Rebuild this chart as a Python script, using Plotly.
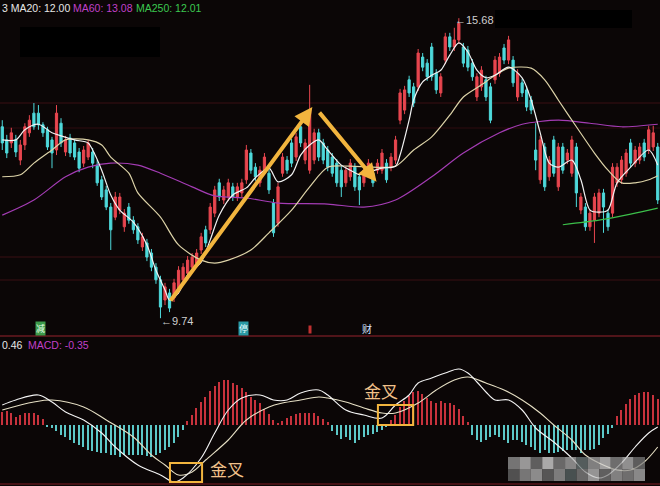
import plotly.graph_objects as go

W, H = 660, 486

# ---------------- price pane data (one candle per trading day) ----------------
opens = [13.53, 13.27, 13.21, 13.27, 12.87, 13.17, 13.41, 13.80, 13.80, 13.57,
         13.47, 13.27, 13.07, 13.60, 13.03, 13.31, 13.21, 13.03, 12.81, 12.93,
         13.03, 12.77, 12.48, 12.28, 11.94, 11.74, 11.88, 11.55, 11.94, 11.68,
         11.55, 11.15, 11.23, 11.03, 10.75, 10.50, 10.10, 10.24, 10.14, 10.30,
         10.50, 10.63, 10.75, 10.83, 11.09, 11.49, 11.49, 11.82, 12.42, 12.08,
         12.14, 12.34, 12.14, 12.22, 12.48, 13.01, 12.73, 12.42, 12.67, 12.61,
         12.02, 11.62, 12.61, 12.87, 13.21, 12.93, 13.53, 12.87, 12.67, 12.87,
         13.41, 13.21, 13.07, 12.93, 12.81, 12.67, 12.42, 12.54, 12.73, 12.54,
         12.42, 12.61, 12.61, 12.67, 12.67, 12.81, 12.73, 12.87, 13.66, 13.86,
         14.46, 14.32, 14.32, 14.91, 14.79, 15.11, 14.59, 14.20, 14.85, 15.31,
         15.11, 15.25, 15.11, 15.05, 14.79, 14.12, 14.32, 14.46, 14.32, 14.46,
         14.59, 15.09, 14.85, 14.85, 14.12, 14.40, 14.26, 14.06, 13.07, 12.48,
         13.13, 12.54, 13.27, 12.34, 13.13, 12.87, 12.61, 13.13, 11.88, 11.94,
         11.55, 11.68, 11.82, 12.22, 11.82, 11.82, 12.42, 12.48, 12.61, 13.21,
         12.81, 12.87, 13.21, 13.07, 13.13, 13.13]
highs = [13.66, 13.37, 13.51, 13.37, 13.27, 13.60, 13.76, 14.00, 13.96, 13.62,
         13.53, 13.33, 13.96, 13.70, 13.35, 13.39, 13.27, 13.11, 13.15, 13.27,
         13.11, 12.87, 12.56, 12.36, 12.02, 12.24, 12.22, 11.90, 12.02, 11.76,
         11.62, 11.43, 11.31, 11.11, 10.83, 10.58, 10.44, 10.32, 10.52, 10.77,
         10.83, 10.97, 11.03, 11.11, 11.43, 11.57, 12.02, 12.36, 12.50, 12.36,
         12.50, 12.42, 12.42, 12.50, 13.17, 13.09, 12.81, 12.75, 13.01, 12.69,
         12.10, 12.42, 13.01, 12.95, 13.29, 13.41, 13.60, 13.29, 14.36, 13.49,
         13.49, 13.29, 13.15, 13.01, 12.89, 12.75, 12.75, 12.89, 12.81, 12.61,
         12.75, 12.89, 12.69, 12.89, 13.09, 12.89, 13.01, 13.35, 14.28, 14.34,
         14.54, 14.40, 15.07, 14.99, 14.87, 15.19, 14.67, 14.59, 15.39, 15.39,
         15.49, 15.68, 15.19, 15.13, 14.87, 14.59, 14.73, 14.54, 14.40, 14.93,
         14.99, 15.17, 15.33, 14.93, 14.67, 14.48, 14.34, 14.14, 13.60, 13.35,
         13.21, 12.95, 13.35, 13.21, 13.21, 13.09, 13.35, 13.21, 12.22, 12.02,
         11.90, 12.22, 12.30, 12.30, 11.90, 12.81, 12.81, 12.95, 13.09, 13.29,
         13.15, 13.21, 13.29, 13.55, 13.55, 13.21]
lows = [13.07, 12.91, 13.11, 12.93, 12.77, 13.07, 13.33, 13.47, 13.47, 13.33,
        13.07, 12.71, 12.97, 13.13, 12.95, 12.93, 12.87, 12.63, 12.73, 12.87,
        12.71, 12.36, 12.08, 11.88, 11.09, 11.68, 11.80, 11.45, 11.61, 11.41,
        11.21, 11.07, 10.87, 10.67, 10.42, 9.74, 10.00, 9.86, 10.06, 10.22,
        10.42, 10.56, 10.67, 10.75, 11.01, 11.15, 11.41, 11.74, 12.06, 12.00,
        12.06, 12.06, 12.06, 12.14, 12.40, 12.60, 12.46, 12.34, 12.60, 12.20,
        11.35, 11.55, 12.54, 12.60, 12.73, 12.85, 13.13, 12.79, 12.60, 12.79,
        12.85, 12.79, 12.65, 12.54, 12.34, 12.14, 12.34, 12.46, 12.26, 11.98,
        12.34, 12.54, 12.34, 12.60, 12.60, 12.42, 12.65, 12.79, 13.58, 13.78,
        14.12, 13.92, 14.24, 14.63, 14.44, 14.44, 14.18, 14.12, 14.77, 15.03,
        15.03, 15.17, 14.71, 14.63, 14.44, 14.04, 14.24, 14.04, 13.60, 14.38,
        14.52, 14.77, 14.77, 14.32, 14.04, 14.12, 13.84, 13.78, 12.67, 12.40,
        12.26, 12.46, 12.54, 12.26, 12.60, 12.79, 12.54, 11.94, 11.80, 11.47,
        11.47, 11.23, 11.74, 11.43, 11.47, 11.74, 12.34, 12.40, 12.54, 12.73,
        12.73, 12.79, 12.85, 12.99, 13.05, 12.00]
closes = [13.21, 13.01, 13.41, 13.03, 13.17, 13.53, 13.66, 13.53, 13.57, 13.41,
          13.13, 13.01, 13.80, 13.21, 13.27, 13.01, 12.93, 12.71, 13.07, 13.21,
          12.81, 12.42, 12.14, 11.94, 11.49, 12.14, 12.14, 11.82, 11.68, 11.49,
          11.29, 11.35, 10.95, 10.75, 10.50, 9.96, 10.36, 9.94, 10.44, 10.69,
          10.75, 10.89, 10.95, 11.03, 11.35, 11.23, 11.94, 12.28, 12.14, 12.28,
          12.42, 12.14, 12.34, 12.42, 13.07, 12.67, 12.54, 12.67, 12.93, 12.28,
          11.43, 12.34, 12.93, 12.67, 12.81, 13.33, 13.21, 13.21, 13.86, 13.41,
          12.93, 12.87, 12.73, 12.61, 12.42, 12.34, 12.67, 12.81, 12.34, 12.28,
          12.67, 12.81, 12.42, 12.81, 13.01, 12.48, 12.93, 13.27, 14.20, 14.26,
          14.20, 14.00, 14.99, 14.71, 14.52, 14.52, 14.26, 14.52, 15.31, 15.11,
          15.25, 15.58, 14.79, 14.71, 14.52, 14.52, 14.65, 14.12, 13.66, 14.85,
          14.91, 14.85, 15.25, 14.40, 14.59, 14.20, 13.92, 13.86, 12.87, 13.27,
          12.34, 12.87, 12.61, 13.13, 12.67, 13.01, 13.27, 12.22, 12.14, 11.55,
          11.82, 12.14, 12.22, 11.94, 11.55, 12.73, 12.73, 12.87, 13.01, 12.81,
          13.07, 13.13, 12.93, 13.47, 13.41, 12.08]
days = list(range(len(opens)))

# moving-average lines, read at sample days
ma5_day = [0, 3, 5, 8, 11, 13, 16, 19, 20, 22, 24, 26, 29, 32, 34, 36, 37, 39, 41, 44,
           46, 48, 51, 54, 56, 59, 61, 64, 66, 68, 70, 72, 75, 77, 79, 81, 84, 87, 88, 90,
           91, 93, 95, 97, 99, 101, 103, 105, 107, 109, 112, 115, 117, 119, 121, 123, 126,
           128, 130, 132, 134, 136, 139, 143, 145]
ma5_val = [13.27, 13.27, 13.47, 13.58, 13.41, 13.35, 13.27, 13.21, 13.07, 12.67, 12.18,
           11.88, 11.64, 11.19, 10.69, 10.30, 10.10, 10.24, 10.60, 10.85, 11.29, 11.78,
           12.18, 12.32, 12.52, 12.71, 12.44, 12.58, 12.97, 13.17, 13.27, 13.07, 12.77,
           12.67, 12.58, 12.63, 12.71, 12.75, 12.97, 13.66, 14.06, 14.42, 14.55, 14.65,
           14.95, 15.19, 15.01, 14.65, 14.50, 14.55, 14.71, 14.50, 14.06, 13.41, 12.81,
           12.73, 12.87, 12.48, 11.88, 11.84, 11.88, 12.42, 12.73, 13.07, 12.77]
ma20_day = [0, 4, 7, 11, 14, 19, 22, 24, 28, 30, 35, 39, 44, 47, 50, 55, 59, 64, 68, 72,
            77, 82, 87, 91, 95, 99, 102, 106, 109, 112, 117, 120, 123, 127, 131, 134, 137,
            140, 143, 145]
ma20_val = [12.54, 12.58, 12.81, 13.07, 13.27, 13.27, 13.17, 12.93, 12.61, 12.22, 11.74,
            11.19, 10.89, 10.83, 10.89, 11.09, 11.43, 11.88, 12.34, 12.73, 12.75, 12.73,
            12.75, 13.07, 13.33, 13.76, 14.12, 14.36, 14.55, 14.69, 14.69, 14.46, 14.06,
            13.53, 13.01, 12.67, 12.42, 12.42, 12.48, 12.56]
ma60_day = [0, 7, 14, 19, 24, 30, 35, 42, 47, 54, 61, 72, 80, 87, 95, 102, 110, 115, 123,
            130, 137, 145]
ma60_val = [11.78, 12.08, 12.54, 12.73, 12.81, 12.77, 12.61, 12.34, 12.16, 12.12, 12.02,
            12.00, 11.94, 12.08, 12.54, 13.01, 13.41, 13.58, 13.66, 13.60, 13.53, 13.58]
ma250_day = [124, 132, 139, 145]
ma250_val = [11.59, 11.68, 11.80, 11.92]

# ---------------- MACD pane data ----------------
macd_hist = [0.13, 0.14, 0.12, 0.08, 0.10, 0.12, 0.12, 0.12, 0.10, 0.06,
             -0.02, -0.03, -0.06, -0.10, -0.12, -0.15, -0.18, -0.20, -0.22, -0.25,
             -0.26, -0.27, -0.28, -0.28, -0.30, -0.30, -0.32, -0.30, -0.30, -0.30,
             -0.30, -0.30, -0.31, -0.32, -0.30, -0.28, -0.25, -0.22, -0.18, -0.12,
             -0.05, 0.04, 0.10, 0.17, 0.23, 0.28, 0.34, 0.39, 0.43, 0.45,
             0.45, 0.42, 0.40, 0.37, 0.33, 0.28, 0.25, 0.22, 0.16, 0.11,
             0.05, 0.02, 0.04, 0.07, 0.09, 0.11, 0.12, 0.12, 0.12, 0.12,
             0.09, 0.06, 0.03, -0.06, -0.10, -0.14, -0.12, -0.15, -0.18, -0.15,
             -0.12, -0.10, -0.09, -0.07, -0.05, -0.02, 0.05, 0.10, 0.18, 0.24,
             0.29, 0.33, 0.34, 0.31, 0.27, 0.24, 0.22, 0.24, 0.22, 0.22,
             0.20, 0.16, 0.09, 0.03, -0.10, -0.15, -0.17, -0.15, -0.12, -0.10,
             -0.12, -0.15, -0.18, -0.15, -0.15, -0.17, -0.20, -0.22, -0.25, -0.28,
             -0.25, -0.28, -0.28, -0.27, -0.26, -0.25, -0.25, -0.25, -0.28, -0.25,
             -0.25, -0.24, -0.20, -0.13, -0.09, -0.03, 0.09, 0.15, 0.21, 0.26,
             0.30, 0.32, 0.33, 0.33, 0.30, 0.26]
dif_day = [0, 3, 8, 11, 14, 18, 22, 25, 30, 35, 38, 40, 44, 47, 50, 53, 57, 60, 63, 66,
           70, 72, 76, 80, 84, 87, 90, 92, 95, 98, 101, 103, 105, 107, 109, 112, 115, 118,
           122, 126, 129, 132, 134, 137, 140, 143, 145]
dif_val = [0.20, 0.25, 0.30, 0.23, 0.13, 0.05, -0.08, -0.22, -0.40, -0.50, -0.57, -0.53,
           -0.33, -0.08, 0.15, 0.27, 0.30, 0.25, 0.25, 0.32, 0.35, 0.30, 0.15, 0.10, 0.07,
           0.20, 0.30, 0.42, 0.47, 0.52, 0.56, 0.52, 0.43, 0.33, 0.25, 0.25, 0.15, -0.03,
           -0.17, -0.33, -0.47, -0.53, -0.50, -0.38, -0.22, -0.08, -0.02]
dea_day = [0, 7, 11, 18, 23, 29, 33, 36, 39, 42, 45, 50, 54, 59, 62, 66, 70, 72, 76, 80,
           84, 87, 92, 96, 100, 103, 107, 111, 115, 119, 122, 126, 129, 132, 136, 139,
           142, 145]
dea_val = [0.15, 0.23, 0.25, 0.18, 0.05, -0.12, -0.30, -0.40, -0.50, -0.47, -0.35, -0.15,
           0.05, 0.18, 0.22, 0.25, 0.28, 0.27, 0.23, 0.17, 0.12, 0.12, 0.22, 0.35, 0.45,
           0.48, 0.42, 0.35, 0.25, 0.12, 0.00, -0.15, -0.30, -0.38, -0.45, -0.45, -0.37,
           -0.22]

# ---------------- styling ----------------
BG = "#0b0606"
RED = "#e8464f"
CYAN = "#4ed9db"
HRED = "#c8323c"
HCYAN = "#5cc8c8"
ORANGE = "#f2b53e"
FONT = "Liberation Sans, Arial, sans-serif"
CJK = "Noto Sans CJK SC"


def px(x):
    return x / W


def py(y):
    return 1 - y / H


top_dom = [py(336), 1.0]
bot_dom = [0.0, py(340)]

fig = go.Figure()

fig.add_trace(go.Candlestick(
    x=days, open=opens, high=highs, low=lows, close=closes,
    increasing=dict(line=dict(color=RED, width=1), fillcolor=RED),
    decreasing=dict(line=dict(color=CYAN, width=1), fillcolor=CYAN),
    whiskerwidth=0, xaxis="x", yaxis="y", showlegend=False, hoverinfo="skip"))

for dx, vy, col in [(ma60_day, ma60_val, "#a43cb4"),
                    (ma20_day, ma20_val, "#ddd3a8"),
                    (ma5_day, ma5_val, "#f2f2f2"),
                    (ma250_day, ma250_val, "#3cbf4a")]:
    fig.add_trace(go.Scatter(x=dx, y=vy, mode="lines", line=dict(color=col, width=1.2, shape="spline", smoothing=0.8),
                             xaxis="x", yaxis="y", showlegend=False, hoverinfo="skip"))

fig.add_trace(go.Bar(x=days, y=macd_hist, width=0.32,
                     marker=dict(color=[HRED if v >= 0 else HCYAN for v in macd_hist], line=dict(width=0)),
                     xaxis="x2", yaxis="y2", showlegend=False, hoverinfo="skip"))
fig.add_trace(go.Scatter(x=dea_day, y=dea_val, mode="lines", line=dict(color="#e6dfc4", width=1.1, shape="spline"),
                         xaxis="x2", yaxis="y2", showlegend=False, hoverinfo="skip"))
fig.add_trace(go.Scatter(x=dif_day, y=dif_val, mode="lines", line=dict(color="#f4f4f4", width=1.1, shape="spline"),
                         xaxis="x2", yaxis="y2", showlegend=False, hoverinfo="skip"))

shapes = []
# pane separators / grid
for yy, col, w in [(103, "#3a0e12", 1), (128, "#2e0b0e", 1), (257, "#3a0e12", 1), (280, "#3a0e12", 1),
                   (336, "#6a1a20", 1.5), (484, "#5a161b", 1.5)]:
    shapes.append(dict(type="line", xref="paper", yref="paper", x0=0, x1=1, y0=py(yy), y1=py(yy),
                       line=dict(color=col, width=w), layer="below"))
# redaction boxes
for x0, y0, x1, y1 in [(20, 27, 160, 57), (495, 10, 632, 28)]:
    shapes.append(dict(type="rect", xref="paper", yref="paper", x0=px(x0), x1=px(x1), y0=py(y1), y1=py(y0),
                       fillcolor="#000000", line=dict(width=0), layer="below"))
# pixelated watermark blocks
shades = ["#9a9a9a", "#c8c8c8", "#7c7c7c", "#e0e0e0", "#8a8a8a", "#b0b0b0",
          "#6e7a7a", "#a8a8a8", "#d2d2d2", "#909090", "#bdbdbd", "#7a7a7a"]
shades2 = ["#6a6a6a", "#9c9c9c", "#b8b8b8", "#707070", "#a4a4a4", "#5e6a6a",
           "#888888", "#c4c4c4", "#7e7e7e", "#aaaaaa", "#929292", "#b4b4b4"]
bw = (645 - 508) / 12
for k in range(12):
    for row, sh in [(0, shades), (1, shades2)]:
        shapes.append(dict(type="rect", xref="paper", yref="paper",
                           x0=px(508 + k * bw), x1=px(508 + (k + 1) * bw),
                           y0=py(457 + (row + 1) * 12), y1=py(457 + row * 12),
                           fillcolor=sh[k], opacity=0.75, line=dict(width=0)))
# golden-cross boxes
for x0, x1, y0, y1 in [(37.1, 44.2, -0.57, -0.38), (83.1, 90.9, 0.0, 0.20)]:
    shapes.append(dict(type="rect", xref="x2", yref="y2", x0=x0, x1=x1, y0=y0, y1=y1,
                       line=dict(color=ORANGE, width=2), fillcolor="rgba(0,0,0,0)"))

ann = []


def txt(x, y, s, color, size=11, anchor="left", family=FONT, bg=None):
    d = dict(xref="paper", yref="paper", x=px(x), y=py(y), text=s, showarrow=False,
             xanchor=anchor, yanchor="middle", font=dict(color=color, size=size, family=family))
    if bg:
        d["bgcolor"] = bg
        d["borderpad"] = 0
    ann.append(d)


txt(0, 8, "3 MA20: 12.00", "#e6e6e6", 10.5)
txt(71, 8, "MA60: 13.08", "#c040c8", 10.5)
txt(134, 8, "MA250: 12.01", "#3cc850", 10.5)
txt(159, 321, "←9.74", "#d0d0d0", 11)
txt(453, 20, "←15.68", "#d0d0d0", 11)
txt(0, 345, "0.46", "#e6e6e6", 10.5)
txt(26, 345, "MACD: -0.35", "#c040c8", 10.5)
txt(35, 328, "减", "#e8ffe8", 9, family=CJK, bg="#3c9a4a")
txt(238, 328, "停", "#e8ffff", 9, family=CJK, bg="#2a9aa4")
txt(308, 329, " ", "#ffffff", 7, bg="#c03030")
txt(360, 328, "财", "#d8e4ff", 10, family=CJK)
txt(208, 468, "金叉", "#f2c28a", 17, family=CJK)
txt(362, 390, "金叉", "#f2c28a", 17, family=CJK)

# trend arrows on price pane
for (tx, ty, hx, hy) in [(37.0, 10.06, 68.6, 13.92), (69.9, 13.84, 82.8, 12.44)]:
    ann.append(dict(xref="x", yref="y", axref="x", ayref="y", x=hx, y=hy, ax=tx, ay=ty,
                    text="", showarrow=True, arrowhead=2, arrowsize=0.9, arrowwidth=4,
                    arrowcolor=ORANGE))

fig.update_layout(
    width=W, height=H, margin=dict(l=0, r=0, t=0, b=0),
    paper_bgcolor=BG, plot_bgcolor=BG, bargap=0,
    xaxis=dict(domain=[0, 1], range=[-0.5, 145.5], visible=False, rangeslider=dict(visible=False),
               anchor="y"),
    yaxis=dict(domain=top_dom, range=[16.04 - 336 * 0.0198, 16.04], visible=False, showgrid=False),
    xaxis2=dict(domain=[0, 1], range=[-0.5, 145.5], visible=False, anchor="y2", matches="x"),
    yaxis2=dict(domain=bot_dom, range=[-0.61, 0.85], visible=False, showgrid=False),
    shapes=shapes, annotations=ann,
)

fig.write_html("out.html", config={"displayModeBar": False},
               post_script="document.body.style.margin='0';document.body.style.overflow='hidden';")
